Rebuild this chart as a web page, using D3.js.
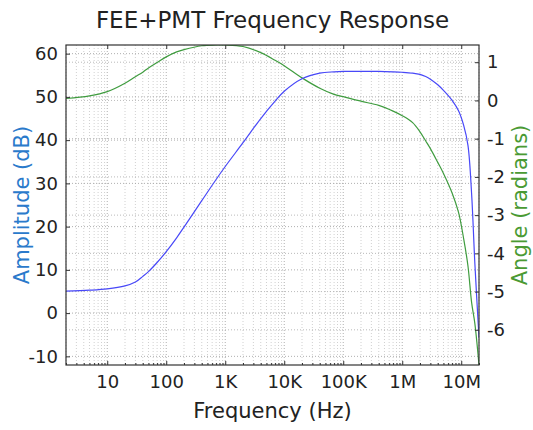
<!DOCTYPE html>
<html>
<head>
<meta charset="utf-8">
<script src="https://cdn.jsdelivr.net/npm/d3@7"></script>
<style>
  html, body { margin: 0; padding: 0; background: #fff; }
  svg { display: block; font-family: "DejaVu Sans", sans-serif; }
</style>
</head>
<body>
<svg id="chart" width="533" height="430"></svg>
<script>
// Frequency sample points (Hz)
const freqHz = [2, 5, 10, 20, 30, 40, 50, 70, 100, 150, 200, 400, 700, 1e3, 2e3, 4e3, 7e3, 1e4, 2e4, 4e4, 7e4,
                1e5, 2e5, 4e5, 7e5, 1e6, 1.5e6, 2e6, 2.5e6, 3e6, 4e6, 5e6, 7e6, 9e6, 1.1e7, 1.3e7, 1.5e7, 1.7e7, 2e7];
// Magnitude response (dB)
const amplitudeDb = [5.1, 5.3, 5.6, 6.3, 7.2, 8.5, 9.6, 11.7, 14.2, 17.4, 19.9, 26.0, 30.9, 33.9, 39.4, 45.0, 49.0, 51.3, 54.2, 55.5, 55.8,
                     55.9, 55.9, 55.9, 55.8, 55.7, 55.5, 55.2, 54.7, 54.1, 52.8, 51.5, 49.2, 46.8, 43.4, 38.8, 27.5, 11.6, -5.7];
// Phase response (radians)
const angleRad = [0.05, 0.12, 0.23, 0.45, 0.62, 0.74, 0.85, 0.99, 1.14, 1.27, 1.33, 1.43, 1.45, 1.45, 1.41, 1.25, 1.05, 0.91, 0.59, 0.32, 0.16,
                  0.10, -0.02, -0.13, -0.28, -0.40, -0.58, -0.82, -1.06, -1.26, -1.62, -1.91, -2.42, -2.93, -3.62, -4.33, -5.29, -5.83, -6.92];

// Axis ticks
const freqTicks = [1e1, 1e2, 1e3, 1e4, 1e5, 1e6, 1e7];
const freqTickLabels = ["10", "100", "1K", "10K", "100K", "1M", "10M"];
const ampTicks = [-10, 0, 10, 20, 30, 40, 50, 60];
const angleTicks = [-6, -5, -4, -3, -2, -1, 0, 1];
const freqDomain = [2, 2e7];
const ampDomain = [-12, 62];

const W = 533, H = 430;
const margin = { top: 45, right: 54, bottom: 65, left: 66 };
const iw = W - margin.left - margin.right;
const ih = H - margin.top - margin.bottom;

const svg = d3.select("#chart");
const g = svg.append("g").attr("transform", `translate(${margin.left},${margin.top})`);

const x = d3.scaleLog().domain(freqDomain).range([0, iw]);
const yAmp = d3.scaleLinear().domain(ampDomain).range([ih, 0]);
const yAng = d3.scaleLinear().domain(d3.extent(angleRad)).range([ih, 0]);

// minor frequency ticks (2..9 per decade)
const minorFreq = [];
for (let e = 0; e <= 7; e++) {
  for (let m = 2; m <= 9; m++) {
    const v = m * Math.pow(10, e);
    if (v >= freqDomain[0] && v <= freqDomain[1]) minorFreq.push(v);
  }
}

// grid
const grid = g.append("g").attr("class", "grid");
grid.selectAll("line.vminor").data(minorFreq).join("line")
  .attr("x1", d => x(d)).attr("x2", d => x(d)).attr("y1", 0).attr("y2", ih)
  .attr("stroke", "#c4c4c4").attr("stroke-width", 0.8).attr("stroke-dasharray", "1,2");
grid.selectAll("line.vmajor").data(freqTicks).join("line")
  .attr("x1", d => x(d)).attr("x2", d => x(d)).attr("y1", 0).attr("y2", ih)
  .attr("stroke", "#9a9a9a").attr("stroke-width", 0.8).attr("stroke-dasharray", "1,2");
grid.selectAll("line.hamp").data(ampTicks).join("line")
  .attr("x1", 0).attr("x2", iw).attr("y1", d => yAmp(d)).attr("y2", d => yAmp(d))
  .attr("stroke", "#9a9a9a").attr("stroke-width", 0.8).attr("stroke-dasharray", "1,2");
grid.selectAll("line.hang").data(angleTicks).join("line")
  .attr("x1", 0).attr("x2", iw).attr("y1", d => yAng(d)).attr("y2", d => yAng(d))
  .attr("stroke", "#a8a8a8").attr("stroke-width", 0.8).attr("stroke-dasharray", "1,2");

// clip
svg.append("defs").append("clipPath").attr("id", "plotClip")
  .append("rect").attr("x", 0).attr("y", 0).attr("width", iw).attr("height", ih);

const pts = freqHz.map((f, i) => ({ f, a: amplitudeDb[i], p: angleRad[i] }));

const smooth = d3.curveCatmullRom.alpha(0.5);
const lineAmp = d3.line().x(d => x(d.f)).y(d => yAmp(d.a)).curve(smooth);
const lineAng = d3.line().x(d => x(d.f)).y(d => yAng(d.p)).curve(smooth);

const plot = g.append("g").attr("clip-path", "url(#plotClip)");
plot.append("path").datum(pts).attr("d", lineAng)
  .attr("fill", "none").attr("stroke", "#3f9c3f").attr("stroke-width", 1.2);
plot.append("path").datum(pts).attr("d", lineAmp)
  .attr("fill", "none").attr("stroke", "#4848f8").attr("stroke-width", 1.2);

// axes (inward ticks)
const fmtFreq = d => freqTickLabels[freqTicks.indexOf(d)];
const fmtNum = d => String(d); // plain hyphen minus

const axB = g.append("g").attr("transform", `translate(0,${ih})`)
  .call(d3.axisBottom(x).tickValues(freqTicks).tickFormat(fmtFreq).tickSizeInner(-4).tickSizeOuter(0).tickPadding(10));
const axBm = g.append("g").attr("transform", `translate(0,${ih})`)
  .call(d3.axisBottom(x).tickValues(minorFreq).tickFormat("").tickSizeInner(-2).tickSizeOuter(0));
const axT = g.append("g")
  .call(d3.axisTop(x).tickValues(freqTicks).tickFormat("").tickSizeInner(-4).tickSizeOuter(0));
const axL = g.append("g")
  .call(d3.axisLeft(yAmp).tickValues(ampTicks).tickFormat(fmtNum).tickSizeInner(-4).tickSizeOuter(0).tickPadding(8));
const axR = g.append("g").attr("transform", `translate(${iw},0)`)
  .call(d3.axisRight(yAng).tickValues(angleTicks).tickFormat(fmtNum).tickSizeInner(-4).tickSizeOuter(0).tickPadding(8));

[axB, axBm, axT, axL, axR].forEach(a => {
  a.select(".domain").remove();
  a.selectAll(".tick line").attr("stroke", "#333");
  a.selectAll(".tick text").attr("fill", "#222").attr("font-size", 18)
    .attr("font-family", "DejaVu Sans, sans-serif");
});

// frame
g.append("rect").attr("x", 0).attr("y", 0).attr("width", iw).attr("height", ih)
  .attr("fill", "none").attr("stroke", "#333").attr("stroke-width", 1.2);

// title and axis labels
svg.append("text").attr("x", margin.left + iw / 2).attr("y", 28)
  .attr("text-anchor", "middle").attr("font-size", 23).attr("fill", "#222")
  .text("FEE+PMT Frequency Response");

svg.append("text").attr("x", margin.left + iw / 2).attr("y", 418)
  .attr("text-anchor", "middle").attr("font-size", 21).attr("fill", "#222")
  .text("Frequency (Hz)");

svg.append("text").attr("transform", `translate(29,${margin.top + ih / 2}) rotate(-90)`)
  .attr("text-anchor", "middle").attr("font-size", 21).attr("fill", "#2a7acb")
  .text("Amplitude (dB)");

svg.append("text").attr("transform", `translate(527,${margin.top + ih / 2}) rotate(-90)`)
  .attr("text-anchor", "middle").attr("font-size", 21).attr("fill", "#4a9a33")
  .text("Angle (radians)");
</script>
</body>
</html>
